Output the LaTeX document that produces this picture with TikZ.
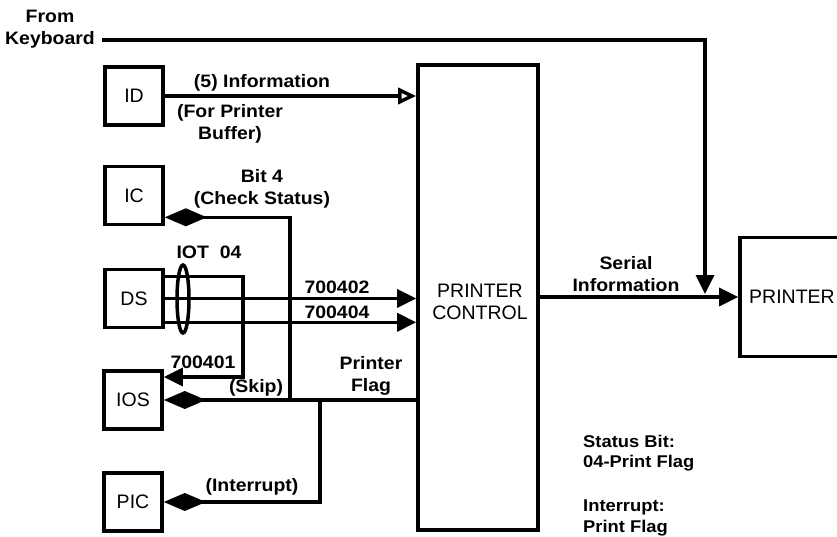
\documentclass[tikz,border=0pt]{standalone}
\usepackage{fontspec}
\setmainfont{Liberation Sans}
\newfontfamily\tagfont{Liberation Sans}[FakeStretch=1.08]
\usetikzlibrary{arrows.meta,calc,positioning,shapes.geometric}

\begin{document}
\begin{tikzpicture}[
x=1pt, y=-1pt,
font=\fontsize{19.5}{21.5}\selectfont,
unit/.style={draw, line width=3.6pt, minimum width=58pt, minimum height=58pt, inner sep=0pt},
wire/.style={line width=3.5pt},
sig/.style={wire, -{Triangle[length=19pt,width=18pt]}},
hollow/.style={wire, -{Triangle[open,length=18pt,width=16pt]}},
flag/.style={wire, -{Diamond[length=42pt,width=18pt]}},
tag/.style={font=\tagfont\fontsize{18}{22}\selectfont\bfseries, align=center, inner sep=0pt},
note/.style={font=\tagfont\fontsize{17}{20.5}\selectfont\bfseries, align=left, anchor=west, inner sep=0pt}
]
\useasboundingbox (0,0) rectangle (837,536);

% boxes
\node[unit] (ID) at (134,96) {ID};
\node[unit] (IC) at (134,195.5) {IC};
\node[unit] (DS) at (134,298.5) {DS};
\node[unit] (IOS) at (133,400) {IOS};
\node[unit] (PIC) at (133,502) {PIC};
\node[unit, minimum width=120pt, minimum height=465pt] (PC) at (478,297.5) {};
\node[align=center, inner sep=0pt] (pctext) at (480,302) {PRINTER\\CONTROL};
\node[unit, minimum width=104pt, minimum height=119pt] (PR) at (792,297) {PRINTER};
\node[draw, wire, ellipse, minimum width=12pt, minimum height=68pt, inner sep=0pt] (iot) at (183,299) {};

% labels
\node[tag] (kb) at (50,29) {From\\Keyboard};
\node[tag] (info) at (262,83) {(5) Information};
\node[tag] (buf) at (230,124) {(For Printer\\Buffer)};
\node[tag] (bit) at (262,189) {Bit 4\\(Check Status)};
\node[tag] (iotlab) at (209,252) {IOT\ \ 04};
\node[tag] (c402) at (337,287) {700402};
\node[tag] (c404) at (337,312) {700404};
\node[tag] (c401) at (203,362) {700401};
\node[tag] (skip) at (256,388) {(Skip)};
\node[tag] (pflag) at (371,376) {Printer\\Flag};
\node[tag] (intr) at (252,487) {(Interrupt)};
\node[tag] (serial) at (626,274) {Serial\\Information};
\node[note] (stat) at (583,453) {Status Bit:\\04-Print Flag};
\node[note] (intnote) at (583,518) {Interrupt:\\Print Flag};

% connectors
\coordinate (kbout) at (102,40);
\coordinate (kbdrop) at (705,294);
\coordinate (ictap) at (290,400);
\coordinate (pictap) at (320,400);
\coordinate (skipturn) at (243,377);
\coordinate (dshi) at ($(DS.north east)+(0,9)$);
\coordinate (dslo) at ($(DS.south east)+(0,-7)$);
\coordinate (iclo) at ($(IC.south east)+(0,-9)$);

\draw[sig] (kbout) -| (kbdrop);
\draw[hollow] (ID.east) -- (ID.east -| PC.west);
\draw[flag] (ictap) |- (iclo);
\draw[sig] (dshi) -| (skipturn) -- (skipturn -| IOS.east);
\draw[sig] (DS.east) -- (DS.east -| PC.west);
\draw[sig] (dslo) -- (dslo -| PC.west);
\draw[flag] (PC.west |- IOS.east) -- (IOS.east);
\draw[flag] (pictap) |- (PIC.east);
\draw[sig] (PC.east |- PR.west) -- (PR.west);
\end{tikzpicture}
\end{document}
